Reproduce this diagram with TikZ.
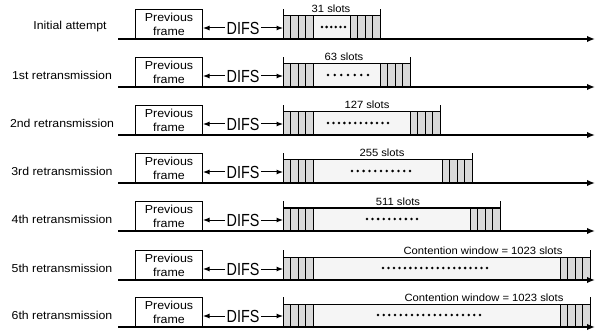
\documentclass[tikz,border=0pt]{standalone}
\usepackage{fontspec}
\setmainfont{Liberation Sans}
\newfontfamily\lblfont{Liberation Sans}[FakeStretch=1.07]
\newfontfamily\difsfont{Liberation Sans}[FakeStretch=0.82]
\usetikzlibrary{arrows.meta}
\begin{document}
\begin{tikzpicture}[x=1pt,y=-1pt,
  axisline/.style={line width=1.8pt,-{Latex[length=8pt,width=6.5pt]}},
  rowlabel/.style={font=\lblfont\fontsize{11.5}{13}\selectfont, inner sep=0pt},
  prevbox/.style={draw, line width=1pt, minimum width=67pt, minimum height=29pt, inner sep=0pt, align=center, font=\lblfont\fontsize{11.6}{14}\selectfont, anchor=south west},
  difslabel/.style={font=\difsfont\fontsize{17.5}{18}\selectfont, inner sep=1.5pt},
  difsarrow/.style={line width=1pt, -{Latex[length=6.5pt,width=5pt]}},
  slotlabel/.style={font=\lblfont\fontsize{10.5}{12}\selectfont, inner sep=0pt, anchor=base},
  slotcell/.style={draw, line width=1pt, fill=black!15},
  tickline/.style={line width=1pt}
]
\useasboundingbox (0,0) rectangle (602,331);
\foreach \i/\B/\lab/\lx/\E/\sl/\sx/\da/\db/\n in {
  0/39/Initial attempt/70/380/31 slots/331/322/345/6,
  1/87/1st retransmission/62/410/63 slots/344/328/368/7,
  2/135/2nd retransmission/62/440/127 slots/367/328/388/12,
  3/183/3rd retransmission/62/472/255 slots/382/352/410/11,
  4/231/4th retransmission/62/500/511 slots/398/367/417/10,
  5/280/5th retransmission/62/590/Contention window = 1023 slots/483/383/487/20,
  6/327/6th retransmission/62/590/Contention window = 1023 slots/484/378/480/19}{
  \pgfmathsetmacro\M{\E-30}
  \pgfmathtruncatemacro\nn{\n-1}
  % row label
  \node[rowlabel] (lab\i) at (\lx,{\B-12}) {\lab};
  % previous frame
  \node[prevbox] (prev\i) at (135,\B) {Previous\\frame};
  % contention window
  \fill[black!4] (313,\B) rectangle (\M,{\B-23});
  \draw[line width=1pt] (283,{\B-23}) -- (\E,{\B-23});
  \foreach \k in {0,...,3}{
    \draw[slotcell] ({283+7.5*\k},\B) rectangle ({290.5+7.5*\k},{\B-23});
    \draw[slotcell] ({\M+7.5*\k},\B) rectangle ({\M+7.5+7.5*\k},{\B-23});
  }
  \foreach \k in {0,...,\nn}{
    \fill ({\da+(\db-\da)*\k/\nn},{\B-12}) circle (1.4);
  }
  \draw[tickline] (283,\B) -- (283,{\B-30});
  \draw[tickline] (\E,\B) -- (\E,{\B-30});
  \node[slotlabel] (sl\i) at (\sx,{\B-26}) {\sl};
  % DIFS
  \coordinate (s\i) at (283,{\B-11});
  \node[difslabel] (difs\i) at (243,{\B-11}) {DIFS};
  \draw[difsarrow] (difs\i.west) -- (difs\i.west -| prev\i.east);
  \draw[difsarrow] (difs\i.east) -- (s\i);
  % time axis
  \coordinate (st\i) at (118,\B);
  \coordinate (en\i) at (595,\B);
  \draw[axisline] (st\i) -- (en\i);
}
\end{tikzpicture}
\end{document}
